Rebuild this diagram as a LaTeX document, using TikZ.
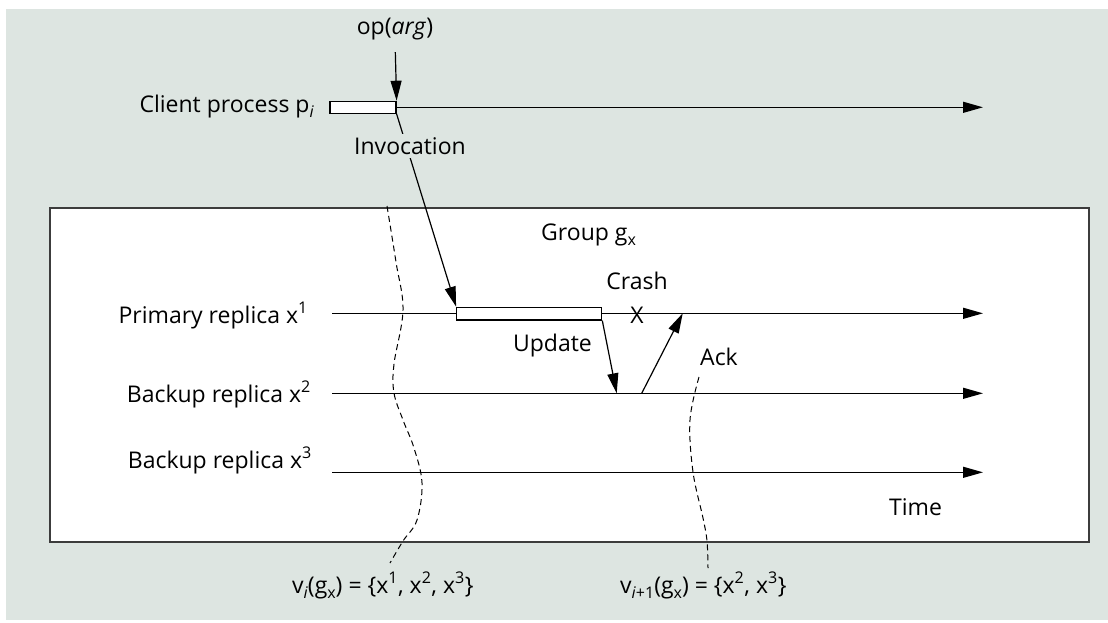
\documentclass[tikz,border=0pt]{standalone}
\usepackage{fontspec}
\setmainfont{Open Sans}
\usetikzlibrary{arrows.meta}
\definecolor{bgc}{RGB}{221,229,225}
\definecolor{frame}{RGB}{60,60,60}
\newcommand{\lowsub}[1]{\raisebox{-5pt}{\fontsize{16}{16}\selectfont #1}}
\begin{document}
\begin{tikzpicture}[x=1pt,y=-1pt,
  every node/.style={font=\fontsize{23}{27}\selectfont, inner sep=0pt},
  tl/.style={line width=1.3pt, -{Triangle[length=20pt,width=11pt]}},
  msg/.style={line width=1.2pt, -{Triangle[length=20pt,width=11pt]}},
  procbox/.style={draw, line width=1.2pt, fill=white, inner sep=0pt},
  cut/.style={line width=1pt, dash pattern=on 6pt off 4pt}]
\useasboundingbox (0,0) rectangle (1108,622);
\fill[white] (0,0) rectangle (1108,622);
\fill[bgc] (6,9) rectangle (1108,620);
% group box
\node[draw=frame, line width=2pt, fill=white, anchor=north west, minimum width=1039pt, minimum height=334pt] (grp) at (49,206.5) {};
% client process
\node[anchor=base east] (clab) at (314,112) {Client process p\lowsub{\textit{i}}};
\node[procbox, minimum width=66pt, minimum height=12pt] (cbox) at (363,107.3) {};
\coordinate (cend) at (983,107.3);
\draw[tl] (cbox.east) -- (cend);
\node (op) at (395,29) {op(\textit{arg})};
\draw[msg, shorten <=12pt] (op.south) -- (cbox.north east);
% replicas
\node[anchor=base east] (l1) at (308,323) {Primary replica x\textsuperscript{1}};
\node[anchor=base east] (l2) at (311,402) {Backup replica x\textsuperscript{2}};
\node[anchor=base east] (l3) at (312,468) {Backup replica x\textsuperscript{3}};
\coordinate (p0) at (332,313.3);
\coordinate (p1) at (983,313.3);
\coordinate (b20) at (332,393.3);
\coordinate (b21) at (983,393.3);
\coordinate (b30) at (332,472.3);
\coordinate (b31) at (983,472.3);
\draw[tl] (p0) -- (p1);
\draw[tl] (b20) -- (b21);
\draw[tl] (b30) -- (b31);
\node[procbox, minimum width=145pt, minimum height=12.7pt] (pbox) at (529.2,313.6) {};
% invocation
\draw[msg] (cbox.south east) -- (pbox.north west);
\node[fill=bgc, inner xsep=2pt, inner ysep=3pt] (inv) at (410,146) {Invocation};
\node[anchor=base west] (grplab) at (541,240) {Group g\lowsub{x}};
% update / crash / ack
\coordinate (u2) at (616.7,393.3);
\draw[msg] (pbox.south east) -- (u2);
\node[anchor=east] (upd) at (592,346) {Update};
\node (crash) at (637,281) {Crash};
\node (xmark) at (637,315) {X};
\coordinate (a1) at (641.7,393.3);
\coordinate (a2) at (682.7,313.3);
\draw[msg] (a1) -- (a2);
\node[anchor=west] (ack) at (700,357) {Ack};
\node (time) at (915.5,507) {Time};
% view cuts
\draw[cut] plot[smooth, tension=0.6] coordinates {(387,206) (396,262) (403,310) (394,364) (394,393) (403,420) (414,448) (422,483) (417,520) (403,541) (390,563)};
\draw[cut] plot[smooth, tension=0.6] coordinates {(699,377) (690,420) (693,472) (703,518) (707,541) (708,568)};
\node[anchor=base west] (vi) at (292,593) {v\lowsub{\textit{i}}(g\lowsub{x}) = \{x\textsuperscript{1}, x\textsuperscript{2}, x\textsuperscript{3}\}};
\node[anchor=base west] (vi1) at (620,593) {v\lowsub{\textit{i}+1}(g\lowsub{x}) = \{x\textsuperscript{2}, x\textsuperscript{3}\}};
\end{tikzpicture}
\end{document}
